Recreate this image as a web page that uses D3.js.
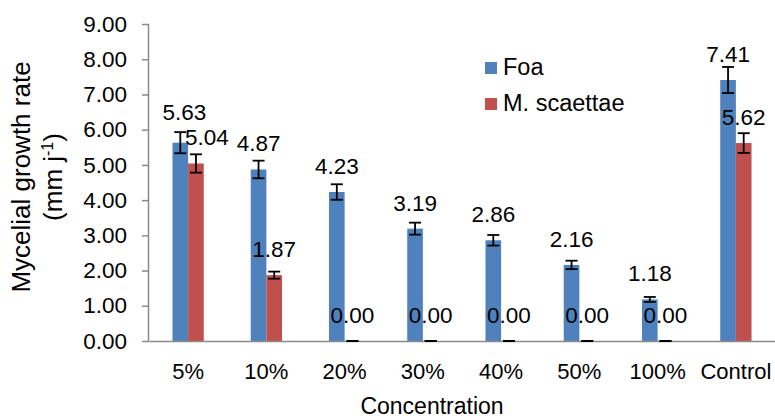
<!DOCTYPE html>
<html>
<head>
<meta charset="utf-8">
<script src="https://cdn.jsdelivr.net/npm/d3@7"></script>
<style>
  body { margin: 0; background: #fff; }
  text { font-family: Arial, "Liberation Sans", sans-serif; fill: #000; }
</style>
</head>
<body>
<div id="chart"></div>
<script>
// data
const categories = ["5%", "10%", "20%", "30%", "40%", "50%", "100%", "Control"];
const seriesNames = ["Foa", "M. scaettae"];
const foaValues = [5.63, 4.87, 4.23, 3.19, 2.86, 2.16, 1.18, 7.41];
const foaErrors = [0.30, 0.25, 0.22, 0.17, 0.15, 0.12, 0.07, 0.37];
const msValues = [5.04, 1.87, 0, 0, 0, 0, 0, 5.62];
const msErrors = [0.26, 0.10, 0, 0, 0, 0, 0, 0.28];
const yTicks = [0, 1, 2, 3, 4, 5, 6, 7, 8, 9];

const colors = {"Foa": "#4F81BD", "M. scaettae": "#C0504D"};

var width = 775, height = 419;
var margin = {top: 24, right: 0, bottom: 78, left: 149};

var svg = d3.select("#chart").append("svg")
    .attr("width", width)
    .attr("height", height);

const x = d3.scaleBand()
    .domain(categories)
    .range([margin.left, width - margin.right])
    .padding(0);

const xSub = d3.scaleBand()
    .domain(seriesNames)
    .range([x.bandwidth() * 0.3, x.bandwidth() * 0.7]);

const y = d3.scaleLinear()
    .domain([0, 9])
    .range([height - margin.bottom, margin.top]);

const rows = [];
categories.forEach((c, i) => {
    rows.push({cat: c, series: "Foa", value: foaValues[i], err: foaErrors[i]});
    rows.push({cat: c, series: "M. scaettae", value: msValues[i], err: msErrors[i]});
});

// y axis
var yAxis = svg.append("g")
    .attr("transform", "translate(" + margin.left + ",0)")
    .call(d3.axisLeft(y).tickValues(yTicks).tickSize(7).tickPadding(15)
        .tickFormat(d3.format(".2f")));
yAxis.selectAll("text").style("font-size", "22.5px");
yAxis.selectAll("line, path").attr("stroke", "#8a8a8a").attr("stroke-width", 1.5);
yAxis.select("path").attr("d", "M-0.5," + y(9) + "V" + y(0));

// bars
svg.selectAll("rect.bar")
    .data(rows)
    .enter().append("rect")
    .attr("class", "bar")
    .attr("x", d => x(d.cat) + xSub(d.series))
    .attr("y", d => y(d.value))
    .attr("width", xSub.bandwidth())
    .attr("height", d => y(0) - y(d.value))
    .style("fill", d => colors[d.series]);

// x axis (drawn after bars so the baseline sits on top)
var xAxis = svg.append("g")
    .attr("transform", "translate(0," + y(0) + ")")
    .call(d3.axisBottom(x).tickSize(0).tickPadding(22));
xAxis.selectAll("text").style("font-size", "22px");
xAxis.select("path").attr("stroke", "#8a8a8a").attr("stroke-width", 1.5);

// error bars
const cap = 6;
var eb = svg.selectAll("g.err")
    .data(rows)
    .enter().append("g")
    .attr("class", "err")
    .attr("transform", d => "translate(" + (x(d.cat) + xSub(d.series) + xSub.bandwidth() / 2) + ",0)");
eb.append("line")
    .attr("x1", 0).attr("x2", 0)
    .attr("y1", d => y(d.value + d.err))
    .attr("y2", d => y(d.value - d.err));
eb.append("line")
    .attr("x1", -cap).attr("x2", cap)
    .attr("y1", d => y(d.value + d.err))
    .attr("y2", d => y(d.value + d.err));
eb.append("line")
    .attr("x1", -cap).attr("x2", cap)
    .attr("y1", d => y(Math.max(0, d.value - d.err)))
    .attr("y2", d => y(Math.max(0, d.value - d.err)));
eb.selectAll("line").style("stroke", "#000").style("stroke-width", 1.8);

// data labels (a couple were nudged by hand in the original)
const nudge = {"Foa|5%": [4, -5], "M. scaettae|5%": [11, 0]};
svg.selectAll("text.lbl")
    .data(rows)
    .enter().append("text")
    .attr("class", "lbl")
    .attr("text-anchor", "middle")
    .attr("x", d => x(d.cat) + xSub(d.series) + xSub.bandwidth() / 2 + (nudge[d.series + "|" + d.cat] || [0, 0])[0])
    .attr("y", d => y(d.value) - 18 + (nudge[d.series + "|" + d.cat] || [0, 0])[1])
    .style("font-size", "22.5px")
    .text(d => d.value.toFixed(2));

// legend
var legend = svg.selectAll("g.legend")
    .data(seriesNames)
    .enter().append("g")
    .attr("class", "legend")
    .attr("transform", (d, i) => "translate(485," + (62 + i * 36) + ")");
legend.append("rect")
    .attr("width", 12).attr("height", 12)
    .style("fill", d => colors[d]);
legend.append("text")
    .attr("x", 18).attr("y", 13)
    .style("font-size", "23.5px")
    .text(d => d);

// axis titles
svg.append("text")
    .attr("x", 432).attr("y", 414)
    .attr("text-anchor", "middle")
    .style("font-size", "23px")
    .text("Concentration");

var yt = svg.append("text")
    .attr("transform", "translate(30,177) rotate(-90)")
    .attr("text-anchor", "middle")
    .style("font-size", "26px");
yt.append("tspan").attr("x", 0).attr("dy", 0).text("Mycelial growth rate");
var l2 = yt.append("tspan").attr("x", 0).attr("dy", 32).text("(mm j");
yt.append("tspan").attr("dy", -9).style("font-size", "16px").text("-1");
yt.append("tspan").attr("dy", 9).text(")");
</script>
</body>
</html>
